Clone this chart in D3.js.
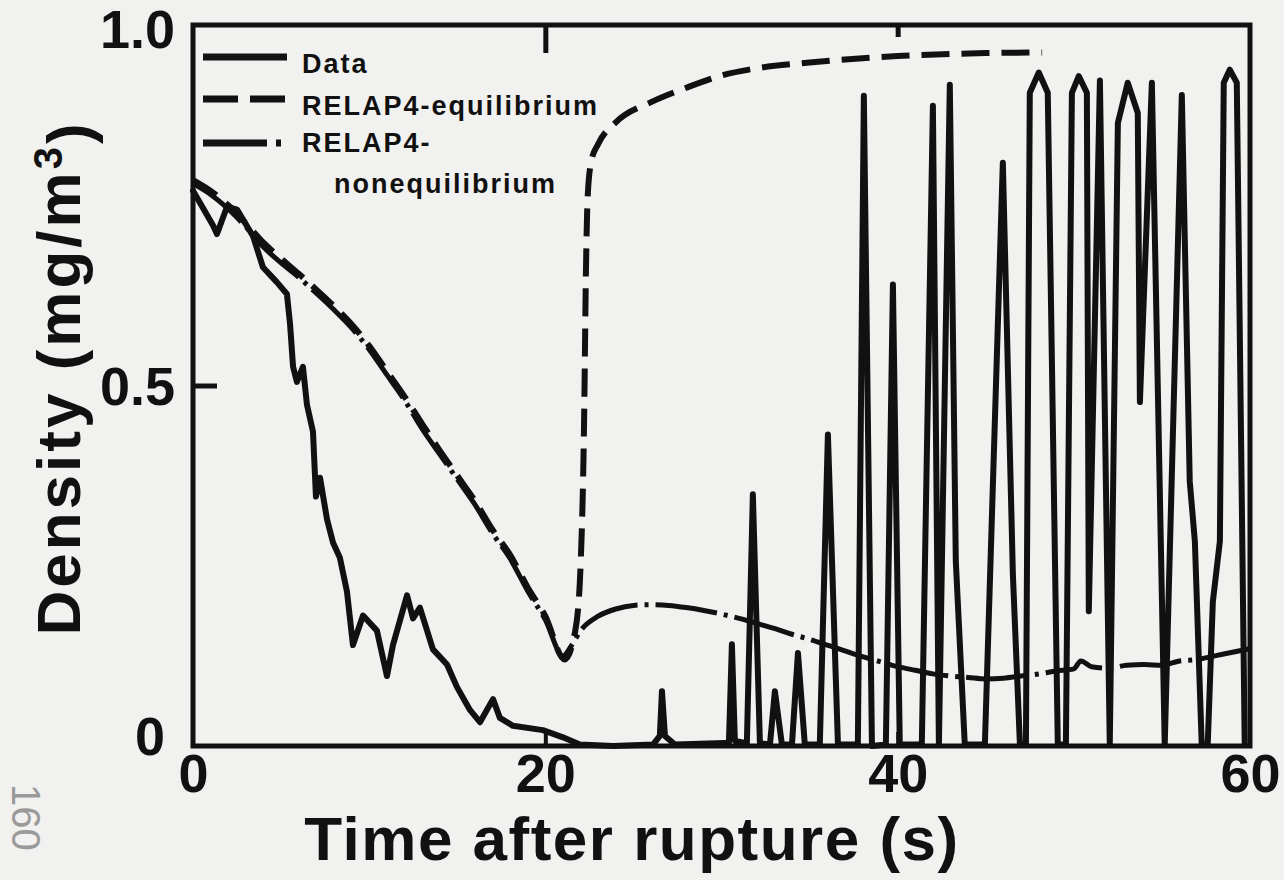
<!DOCTYPE html>
<html>
<head>
<meta charset="utf-8">
<script src="https://cdn.jsdelivr.net/npm/d3@7"></script>
<style>
  body { margin: 0; background: #f1f1ef; }
  svg { display: block; }
  text { font-family: "Liberation Sans", Arial, Helvetica, sans-serif; font-weight: bold; fill: #111; }
</style>
</head>
<body>
<div id="chart"></div>
<script>
// measured data (time in s, density in mg/m3)
var dataTime = [0, 1.14, 1.36, 1.93, 2.5, 3.41, 3.97, 4.77, 5.33, 5.51, 5.68, 5.9, 6.24, 6.47, 6.81, 6.98, 7.21, 7.61, 7.95, 8.34, 8.74, 9.08, 9.65, 10.44, 11.01, 11.35, 12.15, 12.49, 12.88, 13.62, 14.42, 14.98, 15.72, 16.29, 17.03, 17.42, 18.16, 19.86, 21.0, 21.96, 23.84, 26.11, 26.5, 26.62, 26.79, 27.35, 30.19, 30.42, 30.59, 30.76, 31.44, 31.78, 32.18, 32.75, 33.03, 33.43, 34.0, 34.34, 34.73, 35.58, 36.04, 36.61, 37.74, 38.08, 38.54, 39.33, 39.73, 40.12, 41.37, 42.0, 42.34, 42.96, 43.3, 43.81, 44.95, 45.97, 46.54, 46.94, 47.28, 47.5, 48.01, 48.52, 49.09, 49.55, 49.89, 50.28, 50.74, 50.85, 51.48, 52.04, 52.5, 53.06, 53.63, 53.75, 54.43, 55.16, 56.13, 56.58, 56.87, 57.26, 57.6, 57.89, 58.29, 58.51, 58.85, 59.25, 59.7];
var dataDensity = [0.77, 0.722, 0.71, 0.748, 0.744, 0.707, 0.664, 0.643, 0.627, 0.585, 0.526, 0.505, 0.526, 0.473, 0.436, 0.346, 0.372, 0.314, 0.282, 0.261, 0.214, 0.14, 0.181, 0.16, 0.097, 0.14, 0.209, 0.177, 0.192, 0.134, 0.113, 0.082, 0.05, 0.033, 0.065, 0.039, 0.028, 0.022, 0.012, 0.002, 0.0, 0.002, 0.014, 0.076, 0.014, 0.002, 0.004, 0.004, 0.141, 0.007, 0.004, 0.349, 0.004, 0.002, 0.076, 0.002, 0.002, 0.129, 0.002, 0.002, 0.432, 0.002, 0.002, 0.902, 0.0, 0.002, 0.64, 0.002, 0.002, 0.888, 0.002, 0.917, 0.256, 0.002, 0.002, 0.809, 0.238, 0.002, 0.002, 0.906, 0.934, 0.906, 0.002, 0.002, 0.906, 0.929, 0.906, 0.187, 0.923, 0.002, 0.864, 0.92, 0.878, 0.477, 0.92, 0.002, 0.903, 0.367, 0.284, 0.002, 0.002, 0.2, 0.284, 0.92, 0.938, 0.92, 0.002];

var eqTime = [0, 1, 2, 3, 4, 5, 6, 7, 8, 9, 10, 11, 12, 13, 14, 15, 16, 17, 18, 19, 20, 21.1, 21.7, 22.0, 22.2, 22.3, 22.4, 22.6, 23, 24, 26, 28, 30, 32, 35, 40, 45, 48.2];
var eqDensity = [0.785, 0.77, 0.75, 0.725, 0.698, 0.676, 0.655, 0.633, 0.61, 0.585, 0.555, 0.52, 0.485, 0.447, 0.41, 0.375, 0.34, 0.3, 0.265, 0.22, 0.18, 0.12, 0.16, 0.25, 0.45, 0.65, 0.76, 0.81, 0.835, 0.865, 0.893, 0.913, 0.93, 0.94, 0.948, 0.957, 0.961, 0.962];

var neqTime = [0, 1, 2, 3, 4, 5, 6, 7, 8, 9, 10, 11, 12, 13, 14, 15, 16, 17, 18, 19, 20, 21, 21.5, 22, 23, 24, 25, 26, 27, 28, 29, 30, 31, 32, 33, 34, 35, 36, 37, 38, 39, 40, 41, 42, 43, 44, 45, 46, 47, 48, 49, 50, 50.4, 51, 52, 53, 54, 55, 56, 57, 58, 59, 60];
var neqDensity = [0.78, 0.765, 0.745, 0.72, 0.692, 0.67, 0.65, 0.628, 0.605, 0.58, 0.55, 0.515, 0.48, 0.44, 0.405, 0.37, 0.335, 0.295, 0.26, 0.215, 0.175, 0.125, 0.14, 0.16, 0.18, 0.19, 0.195, 0.196, 0.195, 0.192, 0.188, 0.183, 0.177, 0.17, 0.163, 0.155, 0.148, 0.14, 0.132, 0.124, 0.117, 0.11, 0.105, 0.1, 0.097, 0.095, 0.093, 0.094, 0.097, 0.1, 0.104, 0.107, 0.118, 0.11, 0.108, 0.112, 0.113, 0.112, 0.118, 0.12, 0.125, 0.13, 0.135];

var xTicks = [0, 20, 40, 60];
var yTicks = [0, 0.5, 1.0];
var legendLabels = ["Data", "RELAP4-equilibrium", "RELAP4-", "nonequilibrium"];

var width = 1284,
    height = 880;

var svg = d3.select("#chart")
    .append("svg")
    .attr("width", width)
    .attr("height", height);

svg.append("rect")
    .attr("width", width)
    .attr("height", height)
    .attr("fill", "#f1f1ef");

var x = d3.scaleLinear().domain([0, 60]).range([193, 1250]);
var y = d3.scaleLinear().domain([0, 1]).range([746, 25]);

var ink = "#111";

// series
function pairs(t, v) {
    return t.map(function(d, i) { return [d, v[i]]; });
}

var lineLinear = d3.line()
    .x(function(d) { return x(d[0]); })
    .y(function(d) { return y(d[1]); });

var lineSmooth = d3.line()
    .curve(d3.curveMonotoneX)
    .x(function(d) { return x(d[0]); })
    .y(function(d) { return y(d[1]); });

svg.append("path")
    .datum(pairs(neqTime, neqDensity))
    .attr("d", lineSmooth)
    .attr("fill", "none")
    .attr("stroke", ink)
    .attr("stroke-width", 5)
    .attr("stroke-dasharray", "62,7,4,7");

svg.append("path")
    .datum(pairs(eqTime, eqDensity))
    .attr("d", lineSmooth)
    .attr("fill", "none")
    .attr("stroke", ink)
    .attr("stroke-width", 6)
    .attr("stroke-dasharray", "28,12");

svg.append("path")
    .datum(pairs(dataTime, dataDensity))
    .attr("d", lineLinear)
    .attr("fill", "none")
    .attr("stroke", ink)
    .attr("stroke-width", 6)
    .attr("stroke-linejoin", "round")
    .attr("stroke-linecap", "round");

// frame
svg.append("rect")
    .attr("x", x(0))
    .attr("y", y(1))
    .attr("width", x(60) - x(0))
    .attr("height", y(0) - y(1))
    .attr("fill", "none")
    .attr("stroke", ink)
    .attr("stroke-width", 5);

// axes
var yAxis = svg.append("g")
    .attr("transform", "translate(" + x(0) + ",0)")
    .call(d3.axisLeft(y).tickValues(yTicks).tickSize(0).tickPadding(18)
        .tickFormat(function(d) { return d === 0 ? "0" : d.toFixed(1); }));
yAxis.select(".domain").remove();
yAxis.selectAll("text")
    .style("font-size", "54px")
    .attr("fill", ink)
    .attr("dx", function(d) { return d === 0 ? -10 : 0; })
    .attr("dy", function(d) { return d === 0 ? "0.15em" : (d === 1 ? "0.42em" : "0.36em"); });

var yInner = svg.append("g")
    .attr("transform", "translate(" + x(0) + ",0)")
    .call(d3.axisRight(y).tickValues([0.5]).tickSize(24).tickFormat(""));
yInner.select(".domain").remove();
yInner.selectAll("line").attr("stroke", ink).attr("stroke-width", 5);

var xAxis = svg.append("g")
    .attr("transform", "translate(0," + y(0) + ")")
    .call(d3.axisBottom(x).tickValues(xTicks).tickSize(0).tickPadding(8));
xAxis.select(".domain").remove();
xAxis.selectAll("text")
    .style("font-size", "54px")
    .attr("fill", ink);

var xTop = svg.append("g")
    .attr("transform", "translate(0," + y(1) + ")")
    .call(d3.axisBottom(x).tickValues([20, 40]).tickSize(28).tickFormat(""));
xTop.select(".domain").remove();
xTop.selectAll("line")
    .attr("y2", function(d) { return d === 20 ? 28 : 12; })
    .attr("stroke", ink).attr("stroke-width", 5);

var xBottom = svg.append("g")
    .attr("transform", "translate(0," + y(0) + ")")
    .call(d3.axisTop(x).tickValues([20, 40]).tickSize(14).tickFormat(""));
xBottom.select(".domain").remove();
xBottom.selectAll("line").attr("stroke", ink).attr("stroke-width", 4);

// titles
svg.append("text")
    .attr("x", 632)
    .attr("y", 860)
    .attr("text-anchor", "middle")
    .style("font-size", "62px")
    .style("letter-spacing", "1.5px")
    .text("Time after rupture (s)");

var yTitle = svg.append("text")
    .attr("transform", "translate(80,378) rotate(-90)")
    .attr("text-anchor", "middle")
    .style("font-size", "62px")
    .style("letter-spacing", "3px");
yTitle.append("tspan").text("Density (mg/m");
yTitle.append("tspan").attr("dy", "-0.45em").style("font-size", "40px").text("3");
yTitle.append("tspan").attr("dy", "0.45em").text(")");

// legend
var legend = svg.append("g");
var legendRows = [
    { y: 57, dash: null, label: legendLabels[0], ty: 73 },
    { y: 99, dash: "35,12", label: legendLabels[1], ty: 115 },
    { y: 143, dash: "64,9,5,9", label: legendLabels[2], ty: 152 }
];
legendRows.forEach(function(r) {
    legend.append("line")
        .attr("x1", 203).attr("x2", r.dash === "64,9,5,9" ? 283 : 287)
        .attr("y1", r.y).attr("y2", r.y)
        .attr("stroke", ink)
        .attr("stroke-width", 7)
        .attr("stroke-dasharray", r.dash);
    legend.append("text")
        .attr("x", 302)
        .attr("y", r.ty)
        .style("font-size", "27px")
        .style("letter-spacing", "2px")
        .text(r.label);
});
legend.append("text")
    .attr("x", 334)
    .attr("y", 193)
    .style("font-size", "27px")
    .style("letter-spacing", "2px")
    .text(legendLabels[3]);

// scan page number on the margin
svg.append("text")
    .attr("transform", "translate(12,784) rotate(90)")
    .style("font-size", "40px")
    .style("font-weight", "normal")
    .style("fill", "#9a9a9a")
    .text("160");
</script>
</body>
</html>
